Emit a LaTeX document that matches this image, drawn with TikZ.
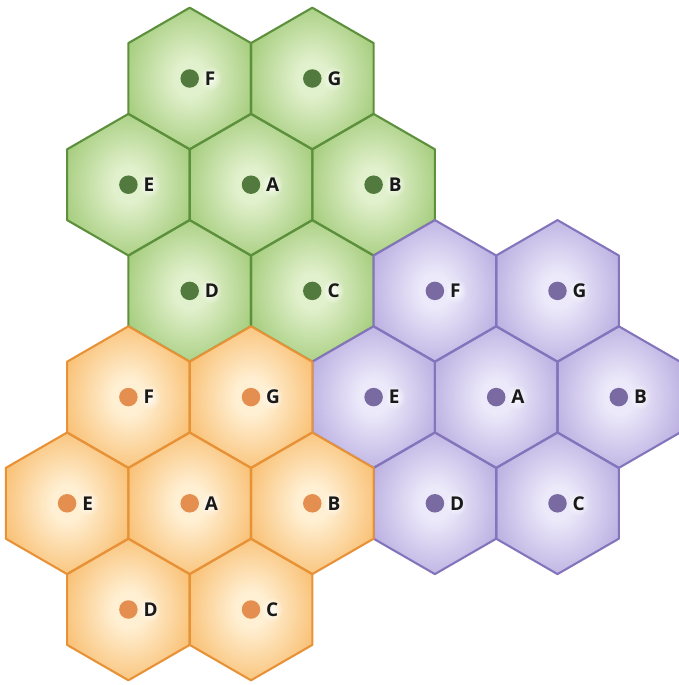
\documentclass[tikz,border=0pt]{standalone}
\usepackage{fontspec}
\setmainfont{Open Sans}
\usetikzlibrary{fadings}
\definecolor{gC}{RGB}{226,241,205}
\definecolor{gE}{RGB}{137,188,88}
\definecolor{gB}{RGB}{92,144,60}
\definecolor{gD}{RGB}{82,122,62}
\definecolor{oC}{RGB}{255,240,212}
\definecolor{oE}{RGB}{246,170,72}
\definecolor{oB}{RGB}{232,146,56}
\definecolor{oD}{RGB}{228,142,80}
\definecolor{pC}{RGB}{236,233,250}
\definecolor{pE}{RGB}{164,149,214}
\definecolor{pB}{RGB}{132,116,188}
\definecolor{pD}{RGB}{121,106,162}
\pgfdeclareradialshading{gshade}{\pgfpoint{0bp}{0bp}}{color(0bp)=(gC); color(6bp)=(gC); color(38bp)=(gE); color(50bp)=(gE)}
\pgfdeclareradialshading{oshade}{\pgfpoint{0bp}{0bp}}{color(0bp)=(oC); color(6bp)=(oC); color(38bp)=(oE); color(50bp)=(oE)}
\pgfdeclareradialshading{pshade}{\pgfpoint{0bp}{0bp}}{color(0bp)=(pC); color(6bp)=(pC); color(38bp)=(pE); color(50bp)=(pE)}
\tikzfading[name=glowfade, inner color=transparent!15, outer color=transparent!100]
\tikzset{
  hexborder/.style={line width=2.1pt, line join=round},
  celldot/.style={circle, inner sep=0pt, minimum size=18.5pt},
  celllabel/.style={anchor=west, inner sep=0pt, font=\bfseries\fontsize{19}{19}\selectfont, text=black!90},
  glow/.style={white, path fading=glowfade}
}
\newcommand{\hexs}{122.6}
\newcommand{\hexh}{106.2}
\newcommand{\hexR}{70.8}
% cluster: #1 prefix, #2 cx, #3 cy, #4 shading, #5 border, #6 dot
\newcommand{\hexcluster}[6]{%
  \foreach \lab/\i/\j in {A/0/0, B/1/0, E/-1/0, F/-0.5/-1, G/0.5/-1, D/-0.5/1, C/0.5/1}{%
    \pgfmathsetmacro{\cx}{#2+\i*\hexs}%
    \pgfmathsetmacro{\cy}{#3+\j*\hexh}%
    \coordinate (#1\lab) at (\cx,\cy);
    \shade[shading=#4] ([yshift=\hexR pt]#1\lab) -- ++(\hexs/2,\hexR/2) -- ++(0,\hexR) -- ++(-\hexs/2,\hexR/2) -- ++(-\hexs/2,-\hexR/2) -- ++(0,-\hexR) -- cycle;
  }%
  \foreach \lab in {A,B,C,D,E,F,G}{%
    \draw[hexborder, draw=#5] ([yshift=\hexR pt]#1\lab) -- ++(\hexs/2,\hexR/2) -- ++(0,\hexR) -- ++(-\hexs/2,\hexR/2) -- ++(-\hexs/2,-\hexR/2) -- ++(0,-\hexR) -- cycle;
    \fill[glow] ([xshift=21pt]#1\lab) ellipse (11pt and 13pt);
    \node[celldot, fill=#6] (#1\lab dot) at (#1\lab) {};
    \node[celllabel] (#1\lab txt) at ([xshift=15pt]#1\lab) {\lab};
  }%
}
\begin{document}
\begin{tikzpicture}[x=1pt,y=-1pt]
\useasboundingbox (0,0) rectangle (679,685);
\hexcluster{g}{251}{184.7}{gshade}{gB}{gD}
\hexcluster{p}{496.2}{397.1}{pshade}{pB}{pD}
\hexcluster{o}{189.7}{503.3}{oshade}{oB}{oD}
\end{tikzpicture}
\end{document}
